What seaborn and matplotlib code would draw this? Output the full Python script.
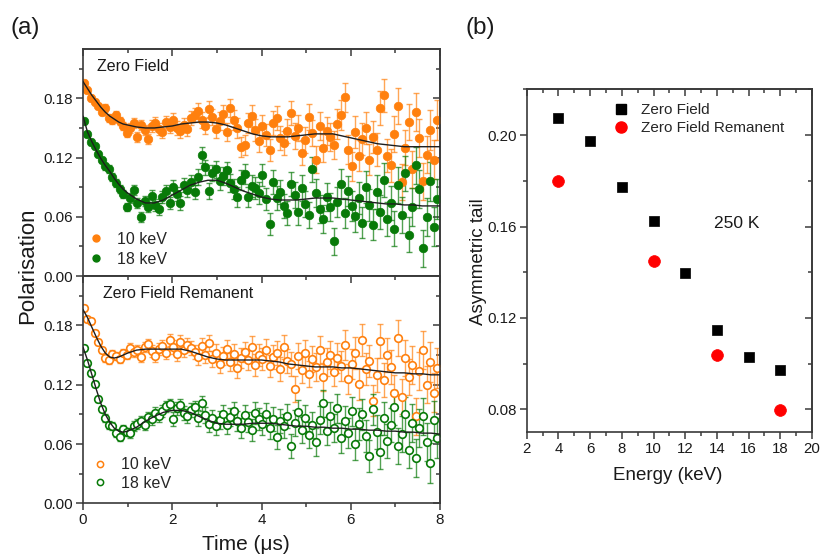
import matplotlib
matplotlib.use('Agg')
import matplotlib.pyplot as plt
import seaborn as sns
from matplotlib.lines import Line2D
from matplotlib.ticker import MultipleLocator, FormatStrFormatter, NullFormatter

# ---------------- data: panel (a) ----------------
t = [0.02, 0.10, 0.18, 0.26, 0.34, 0.42, 0.50, 0.58, 0.66, 0.74,
     0.82, 0.90, 0.98, 1.06, 1.14, 1.22, 1.30, 1.38, 1.46, 1.54,
     1.62, 1.70, 1.78, 1.86, 1.94, 2.02, 2.10, 2.18, 2.26, 2.34,
     2.42, 2.50, 2.58, 2.66, 2.74, 2.82, 2.90, 2.98, 3.06, 3.14,
     3.22, 3.30, 3.38, 3.46, 3.54, 3.62, 3.70, 3.78, 3.86, 3.94,
     4.02, 4.10, 4.18, 4.26, 4.34, 4.42, 4.50, 4.58, 4.66, 4.74,
     4.82, 4.90, 4.98, 5.06, 5.14, 5.22, 5.30, 5.38, 5.46, 5.54,
     5.62, 5.70, 5.78, 5.86, 5.94, 6.02, 6.10, 6.18, 6.26, 6.34,
     6.42, 6.50, 6.58, 6.66, 6.74, 6.82, 6.90, 6.98, 7.06, 7.14,
     7.22, 7.30, 7.38, 7.46, 7.54, 7.62, 7.70, 7.78, 7.86, 7.94]

zf_10kev = [0.196, 0.188, 0.180, 0.176, 0.172, 0.166, 0.170, 0.160, 0.158, 0.163,
            0.157, 0.152, 0.145, 0.150, 0.155, 0.141, 0.153, 0.148, 0.139, 0.152,
            0.155, 0.149, 0.146, 0.156, 0.151, 0.158, 0.150, 0.147, 0.153, 0.149,
            0.160, 0.163, 0.167, 0.158, 0.152, 0.169, 0.161, 0.149, 0.157, 0.164,
            0.146, 0.170, 0.158, 0.150, 0.131, 0.133, 0.155, 0.162, 0.148, 0.137,
            0.152, 0.143, 0.128, 0.155, 0.160, 0.140, 0.135, 0.147, 0.165, 0.142,
            0.150, 0.125, 0.138, 0.161, 0.145, 0.118, 0.152, 0.130, 0.147, 0.141,
            0.133, 0.154, 0.163, 0.181, 0.128, 0.111, 0.146, 0.122, 0.139, 0.150,
            0.118, 0.141, 0.128, 0.170, 0.183, 0.122, 0.112, 0.144, 0.172, 0.095,
            0.130, 0.156, 0.108, 0.166, 0.140, 0.096, 0.123, 0.148, 0.118, 0.158]

zf_18kev = [0.157, 0.144, 0.136, 0.132, 0.124, 0.118, 0.111, 0.108, 0.100, 0.094,
            0.088, 0.083, 0.070, 0.079, 0.087, 0.074, 0.060, 0.076, 0.070, 0.081,
            0.072, 0.068, 0.080, 0.086, 0.074, 0.090, 0.083, 0.074, 0.092, 0.087,
            0.095, 0.085, 0.100, 0.123, 0.110, 0.086, 0.104, 0.108, 0.096, 0.101,
            0.107, 0.094, 0.088, 0.080, 0.097, 0.103, 0.080, 0.091, 0.089, 0.084,
            0.102, 0.078, 0.053, 0.095, 0.079, 0.085, 0.071, 0.064, 0.093, 0.082,
            0.065, 0.089, 0.073, 0.062, 0.108, 0.084, 0.068, 0.058, 0.080, 0.070,
            0.035, 0.075, 0.093, 0.064, 0.086, 0.071, 0.061, 0.079, 0.054, 0.090,
            0.072, 0.052, 0.085, 0.065, 0.097, 0.058, 0.074, 0.048, 0.092, 0.062,
            0.104, 0.042, 0.070, 0.112, 0.088, 0.028, 0.060, 0.096, 0.050, 0.078]

zfr_10kev = [0.198, 0.186, 0.184, 0.172, 0.163, 0.155, 0.147, 0.145, 0.151, 0.149,
             0.146, 0.152, 0.150, 0.157, 0.153, 0.155, 0.148, 0.158, 0.161, 0.154,
             0.149, 0.156, 0.159, 0.152, 0.165, 0.158, 0.151, 0.163, 0.155, 0.160,
             0.157, 0.153, 0.148, 0.159, 0.150, 0.162, 0.146, 0.152, 0.141, 0.149,
             0.156, 0.143, 0.151, 0.137, 0.147, 0.153, 0.145, 0.158, 0.140, 0.150,
             0.146, 0.155, 0.139, 0.148, 0.152, 0.136, 0.158, 0.144, 0.141, 0.116,
             0.149, 0.135, 0.152, 0.131, 0.146, 0.138, 0.155, 0.128, 0.143, 0.150,
             0.133, 0.147, 0.139, 0.160, 0.126, 0.141, 0.152, 0.121, 0.165, 0.136,
             0.144, 0.104, 0.130, 0.164, 0.125, 0.150, 0.138, 0.112, 0.167, 0.108,
             0.147, 0.128, 0.140, 0.088, 0.134, 0.155, 0.120, 0.143, 0.112, 0.137]

zfr_18kev = [0.157, 0.142, 0.132, 0.121, 0.106, 0.095, 0.086, 0.079, 0.078, 0.071,
             0.067, 0.075, 0.072, 0.071, 0.078, 0.080, 0.083, 0.079, 0.087, 0.085,
             0.091, 0.088, 0.093, 0.098, 0.100, 0.085, 0.096, 0.099, 0.091, 0.088,
             0.094, 0.097, 0.086, 0.101, 0.089, 0.080, 0.086, 0.078, 0.084, 0.090,
             0.079, 0.087, 0.093, 0.083, 0.076, 0.089, 0.082, 0.074, 0.091, 0.085,
             0.080, 0.090, 0.076, 0.085, 0.067, 0.083, 0.078, 0.088, 0.058, 0.081,
             0.092, 0.074, 0.086, 0.069, 0.079, 0.062, 0.084, 0.101, 0.073, 0.088,
             0.076, 0.096, 0.066, 0.083, 0.071, 0.093, 0.060, 0.080, 0.090, 0.068,
             0.048, 0.095, 0.072, 0.052, 0.086, 0.063, 0.079, 0.097, 0.058, 0.070,
             0.090, 0.054, 0.081, 0.046, 0.076, 0.088, 0.062, 0.041, 0.084, 0.066]

err = [0.003, 0.003, 0.003, 0.003, 0.003, 0.003, 0.004, 0.004, 0.004, 0.004,
       0.004, 0.004, 0.004, 0.005, 0.005, 0.005, 0.005, 0.005, 0.005, 0.006,
       0.006, 0.006, 0.006, 0.006, 0.006, 0.007, 0.007, 0.007, 0.007, 0.007,
       0.007, 0.007, 0.008, 0.008, 0.008, 0.008, 0.008, 0.009, 0.009, 0.009,
       0.009, 0.009, 0.010, 0.010, 0.010, 0.010, 0.010, 0.011, 0.011, 0.011,
       0.011, 0.011, 0.011, 0.012, 0.012, 0.012, 0.012, 0.012, 0.012, 0.013,
       0.013, 0.013, 0.013, 0.013, 0.013, 0.014, 0.014, 0.014, 0.014, 0.014,
       0.014, 0.015, 0.015, 0.015, 0.015, 0.015, 0.016, 0.016, 0.016, 0.016,
       0.016, 0.016, 0.017, 0.017, 0.017, 0.017, 0.017, 0.018, 0.018, 0.018,
       0.018, 0.018, 0.019, 0.019, 0.019, 0.019, 0.019, 0.020, 0.020, 0.020]

fit_t = [0.0, 0.1, 0.2, 0.3, 0.4, 0.5, 0.6, 0.7, 0.8, 0.9, 1.0,
         1.2, 1.4, 1.6, 1.8, 2.0, 2.2, 2.4, 2.6, 2.8, 3.0,
         3.2, 3.4, 3.6, 3.8, 4.0, 4.2, 4.4, 4.6, 4.8, 5.0,
         5.2, 5.4, 5.6, 5.8, 6.0, 6.2, 6.4, 6.6, 6.8, 7.0,
         7.2, 7.4, 7.6, 7.8, 8.0]
fit_zf_10 = [0.197, 0.190, 0.183, 0.177, 0.171, 0.166, 0.162, 0.159, 0.156, 0.154, 0.153,
             0.151, 0.150, 0.150, 0.151, 0.152, 0.154, 0.155, 0.156, 0.156, 0.155,
             0.153, 0.150, 0.147, 0.144, 0.142, 0.141, 0.141, 0.141, 0.142, 0.143,
             0.144, 0.144, 0.144, 0.142, 0.140, 0.138, 0.136, 0.134, 0.133, 0.132,
             0.131, 0.131, 0.131, 0.131, 0.131]
fit_zf_18 = [0.162, 0.146, 0.136, 0.127, 0.119, 0.112, 0.106, 0.099, 0.093, 0.088, 0.084,
             0.078, 0.074, 0.074, 0.077, 0.082, 0.087, 0.092, 0.095, 0.097, 0.097,
             0.094, 0.090, 0.086, 0.083, 0.080, 0.078, 0.077, 0.077, 0.077, 0.078,
             0.079, 0.079, 0.079, 0.078, 0.077, 0.076, 0.075, 0.074, 0.073, 0.073,
             0.072, 0.072, 0.071, 0.071, 0.071]
fit_zfr_10 = [0.196, 0.188, 0.178, 0.168, 0.159, 0.152, 0.148, 0.147, 0.148, 0.150, 0.152,
              0.155, 0.156, 0.156, 0.156, 0.156, 0.156, 0.154, 0.151, 0.148, 0.146,
              0.145, 0.145, 0.145, 0.145, 0.145, 0.144, 0.143, 0.141, 0.140, 0.139,
              0.138, 0.138, 0.138, 0.137, 0.137, 0.136, 0.135, 0.134, 0.133, 0.132,
              0.132, 0.131, 0.131, 0.130, 0.130]
fit_zfr_18 = [0.158, 0.145, 0.130, 0.115, 0.101, 0.090, 0.082, 0.076, 0.073, 0.072, 0.073,
              0.077, 0.083, 0.088, 0.092, 0.094, 0.094, 0.092, 0.088, 0.084, 0.081,
              0.080, 0.080, 0.080, 0.081, 0.081, 0.081, 0.080, 0.079, 0.078, 0.078,
              0.077, 0.077, 0.076, 0.076, 0.075, 0.075, 0.074, 0.074, 0.073, 0.073,
              0.072, 0.072, 0.071, 0.071, 0.070]

series_labels = ['10 keV', '18 keV']

# ---------------- data: panel (b) ----------------
energy_zf = [4, 6, 8, 10, 12, 14, 16, 18]
tail_zf = [0.2073, 0.1975, 0.1774, 0.1623, 0.1398, 0.1149, 0.1029, 0.0974]
energy_zfr = [4, 10, 14, 18]
tail_zfr = [0.1801, 0.1448, 0.1037, 0.0799]

# ---------------- style ----------------
sns.set_theme(style='ticks')
plt.rcParams['font.family'] = ['Liberation Sans', 'DejaVu Sans']
plt.rcParams['axes.linewidth'] = 1.2

ORANGE = '#FF800E'
GREEN = '#087A08'
SPINE = '#3a3a3a'
TXT = '#1a1a1a'

fig = plt.figure(figsize=(8.21, 5.56), dpi=100)
W, H = 821.0, 556.0


def px_axes(left, top, right, bottom):
    return fig.add_axes([left / W, 1 - bottom / H, (right - left) / W, (bottom - top) / H])


def style_axes(ax, xmaj, xmin, ymaj, ymin, labelsize, show_xlabels=True):
    ax.xaxis.set_major_locator(MultipleLocator(xmaj))
    ax.xaxis.set_minor_locator(MultipleLocator(xmin))
    ax.yaxis.set_major_locator(MultipleLocator(ymaj))
    ax.yaxis.set_minor_locator(MultipleLocator(ymin))
    ax.yaxis.set_major_formatter(FormatStrFormatter('%.2f'))
    ax.tick_params(which='both', direction='out', top=False, right=False,
                   color=SPINE, labelcolor=TXT, labelsize=labelsize, width=1.1)
    ax.tick_params(which='major', length=5, pad=2)
    ax.tick_params(which='minor', length=3)
    ax.tick_params(labelbottom=show_xlabels)
    for sp in ax.spines.values():
        sp.set_color(SPINE)
        sp.set_linewidth(1.2)
    sx = ax.secondary_xaxis('top')
    sx.xaxis.set_major_locator(MultipleLocator(xmaj))
    sx.xaxis.set_minor_locator(MultipleLocator(xmin))
    sx.xaxis.set_major_formatter(NullFormatter())
    sx.tick_params(which='both', direction='in', color=SPINE, width=1.1)
    sx.tick_params(which='major', length=5)
    sx.tick_params(which='minor', length=3)
    sy = ax.secondary_yaxis('right')
    sy.yaxis.set_major_locator(MultipleLocator(ymaj))
    sy.yaxis.set_minor_locator(MultipleLocator(ymin))
    sy.yaxis.set_major_formatter(NullFormatter())
    sy.tick_params(which='both', direction='in', color=SPINE, width=1.1)
    sy.tick_params(which='major', length=5)
    sy.tick_params(which='minor', length=3)
    for s in (sx, sy):
        for sp in s.spines.values():
            sp.set_color(SPINE)
            sp.set_linewidth(1.2)


def draw_panel(ax, y10, y18, f10, f18, filled):
    for y, col in ((y10, ORANGE), (y18, GREEN)):
        ax.errorbar(t, y, yerr=err, fmt='none', ecolor=col, elinewidth=1.0,
                    capsize=2.4, capthick=1.0, alpha=0.7, zorder=1)
        if filled:
            sns.scatterplot(x=t, y=y, ax=ax, color=col, s=38, edgecolor=col,
                            linewidth=0.5, zorder=2, legend=False)
        else:
            sns.scatterplot(x=t, y=y, ax=ax, facecolor='white', edgecolor=col,
                            s=30, linewidth=1.2, zorder=2, legend=False)
    for f in (f10, f18):
        sns.lineplot(x=fit_t, y=f, ax=ax, color='#1e1e1e', linewidth=1.0,
                     estimator=None, sort=False, zorder=3, legend=False)
    ax.set_xlim(0, 8)
    ax.set_ylim(0, 0.23)
    ax.set_xlabel('')
    ax.set_ylabel('')


# ---------- panel (a) top ----------
ax1 = px_axes(83, 49, 440, 276)
draw_panel(ax1, zf_10kev, zf_18kev, fit_zf_10, fit_zf_18, filled=True)
style_axes(ax1, 2, 1, 0.06, 0.03, 11, show_xlabels=False)
ax1.text(0.04, 0.955, 'Zero Field', transform=ax1.transAxes, fontsize=11.5,
         color=TXT, va='top', ha='left')
h_f = [Line2D([], [], ls='none', marker='o', ms=5, color=ORANGE),
       Line2D([], [], ls='none', marker='o', ms=5, color=GREEN)]
ax1.legend(h_f, series_labels, loc='lower left', bbox_to_anchor=(-0.03, -0.015),
           frameon=False, fontsize=11.5, handletextpad=0.6, labelspacing=0.3,
           borderaxespad=0.4, handlelength=1.4)

# ---------- panel (a) bottom ----------
ax2 = px_axes(83, 276, 440, 503.3)
draw_panel(ax2, zfr_10kev, zfr_18kev, fit_zfr_10, fit_zfr_18, filled=False)
style_axes(ax2, 2, 1, 0.06, 0.03, 11, show_xlabels=True)
ax2.text(0.055, 0.955, 'Zero Field Remanent', transform=ax2.transAxes, fontsize=11.5,
         color=TXT, va='top', ha='left')
h_o = [Line2D([], [], ls='none', marker='o', ms=4.5, mfc='white', mec=ORANGE, mew=1.1),
       Line2D([], [], ls='none', marker='o', ms=4.5, mfc='white', mec=GREEN, mew=1.1)]
ax2.legend(h_o, series_labels, loc='lower left', bbox_to_anchor=(-0.02, 0.0),
           frameon=False, fontsize=11.5, handletextpad=0.6, labelspacing=0.2,
           borderaxespad=0.4, handlelength=1.4)

fig.text(28 / W, 1 - 266 / H, 'Polarisation', rotation=90, fontsize=16,
         color=TXT, ha='center', va='center')
fig.text(246 / W, 1 - 545 / H, 'Time (μs)', fontsize=15, color=TXT,
         ha='center', va='center')
fig.text(10 / W, 1 - 28 / H, '(a)', fontsize=17.5, color=TXT, ha='left', va='center')

# ---------- panel (b) ----------
ax3 = px_axes(526.7, 89.3, 812, 432.3)
sns.scatterplot(x=energy_zf, y=tail_zf, ax=ax3, marker='s', color='black',
                s=60, edgecolor='black', linewidth=0.5, zorder=3, legend=False)
sns.scatterplot(x=energy_zfr, y=tail_zfr, ax=ax3, marker='o', color='#FF0000',
                s=72, edgecolor='#FF0000', linewidth=0.5, zorder=3, legend=False)
ax3.set_xlim(2, 20)
ax3.set_ylim(0.07, 0.22)
ax3.set_xlabel('')
ax3.set_ylabel('')
style_axes(ax3, 2, 1, 0.04, 0.02, 10.8, show_xlabels=True)
h_b = [Line2D([], [], ls='none', marker='s', ms=7, color='black'),
       Line2D([], [], ls='none', marker='o', ms=8, color='#FF0000')]
ax3.legend(h_b, ['Zero Field', 'Zero Field Remanent'], loc='upper left',
           bbox_to_anchor=(0.255, 1.0), frameon=False, fontsize=11,
           handletextpad=0.8, labelspacing=0.25, borderaxespad=0.5, handlelength=1.0)
ax3.text(0.655, 0.61, '250 K', transform=ax3.transAxes, fontsize=12.5,
         color=TXT, ha='left', va='center')
fig.text(478 / W, 1 - 262 / H, 'Asymmetric tail', rotation=90, fontsize=13.5,
         color=TXT, ha='center', va='center')
fig.text(668 / W, 1 - 475 / H, 'Energy (keV)', fontsize=13.5, color=TXT,
         ha='center', va='center')
fig.text(465 / W, 1 - 28 / H, '(b)', fontsize=17.5, color=TXT, ha='left', va='center')

fig.savefig('out.png', dpi=100)
